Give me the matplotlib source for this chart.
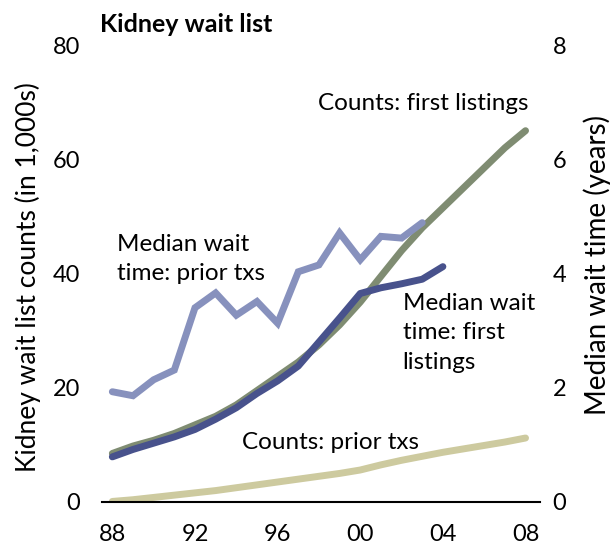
import numpy as np
import matplotlib
matplotlib.use('Agg')
import matplotlib.pyplot as plt
from matplotlib import font_manager

years = list(range(1988, 2009))
counts_first = [8.5, 9.8, 10.8, 12.0, 13.5, 15.0, 17.0, 19.5, 22.0, 24.5, 27.5,
                31.0, 35.0, 39.5, 44.0, 48.0, 51.5, 55.0, 58.5, 62.0, 65.0]
counts_prior = [0.1, 0.4, 0.8, 1.2, 1.6, 2.0, 2.5, 3.0, 3.5, 4.0, 4.5,
                5.0, 5.6, 6.5, 7.3, 8.0, 8.7, 9.3, 9.9, 10.5, 11.2]
wait_years = list(range(1988, 2005))
wait_first = [0.79, 0.92, 1.03, 1.14, 1.27, 1.45, 1.65, 1.9, 2.12, 2.38, 2.8,
              3.22, 3.65, 3.75, 3.82, 3.9, 4.12]
prior_years = list(range(1988, 2004))
wait_prior = [1.93, 1.86, 2.14, 2.31, 3.4, 3.66, 3.27, 3.51, 3.13, 4.03, 4.15,
              4.71, 4.24, 4.65, 4.62, 4.89]
xticks = [1988, 1992, 1996, 2000, 2004, 2008]
left_ticks = [0, 20, 40, 60, 80]
right_ticks = [0, 2, 4, 6, 8]

names = {f.name for f in font_manager.fontManager.ttflist}
fam = 'Lato' if 'Lato' in names else 'DejaVu Sans'
tfam = 'Liberation Sans Narrow' if 'Liberation Sans Narrow' in names else fam
plt.rcParams['font.family'] = [fam, 'DejaVu Sans']

fig = plt.figure(figsize=(6.13, 5.5), dpi=100)
ax = fig.add_axes([102 / 613, 1 - 502 / 550, (540 - 102) / 613, (502 - 45) / 550])
ax2 = ax.twinx()

c_green = '#7f8c72'
c_beige = '#cdca9f'
c_dark = '#48528c'
c_light = '#8791bd'

ax.plot(years, counts_prior, color=c_beige, lw=5, solid_capstyle='round')
ax.plot(years, counts_first, color=c_green, lw=5, solid_capstyle='round')
ax2.plot(prior_years, wait_prior, color=c_light, lw=5, solid_capstyle='round', solid_joinstyle='miter')
ax2.plot(wait_years, wait_first, color=c_dark, lw=5, solid_capstyle='round')

ax.set_xlim(1987.5, 2008.7)
ax.set_ylim(0, 80)
ax2.set_ylim(0, 8)
ax.set_xticks(xticks)
ax.set_xticklabels(['%02d' % (y % 100) for y in xticks])
ax.set_yticks(left_ticks)
ax2.set_yticks(right_ticks)

for a in (ax, ax2):
    for s in a.spines.values():
        s.set_visible(False)
    a.tick_params(length=0, labelsize=17)
ax.spines['bottom'].set_visible(True)
ax.spines['bottom'].set_linewidth(1.5)
ax.tick_params(axis='y', pad=16)
ax.tick_params(axis='x', pad=16)
ax2.tick_params(axis='y', pad=9)

fig.text(28 / 613, 1 - 277 / 550, 'Kidney wait list counts (in 1,000s)', rotation=90,
         ha='center', va='center', fontsize=19)
fig.text(597 / 613, 1 - 265 / 550, 'Median wait time (years)', rotation=90,
         ha='center', va='center', fontsize=20)
fig.text(100 / 613, 1 - 24 / 550, 'Kidney wait list', ha='left', va='center',
         fontsize=18, fontweight='bold', family=[tfam, 'DejaVu Sans'])

ax.text(1997.95, 69.7, 'Counts: first listings', fontsize=17.5, ha='left', va='center')
ax.text(1988.25, 42.5, 'Median wait\ntime: prior txs', fontsize=17.5, ha='left', va='center',
        linespacing=1.5)
ax.text(2002.05, 29.6, 'Median wait\ntime: first\nlistings', fontsize=17.5, ha='left', va='center',
        linespacing=1.5)
ax.text(1994.3, 10.5, 'Counts: prior txs', fontsize=17.5, ha='left', va='center')

fig.savefig('out.png', dpi=100)
